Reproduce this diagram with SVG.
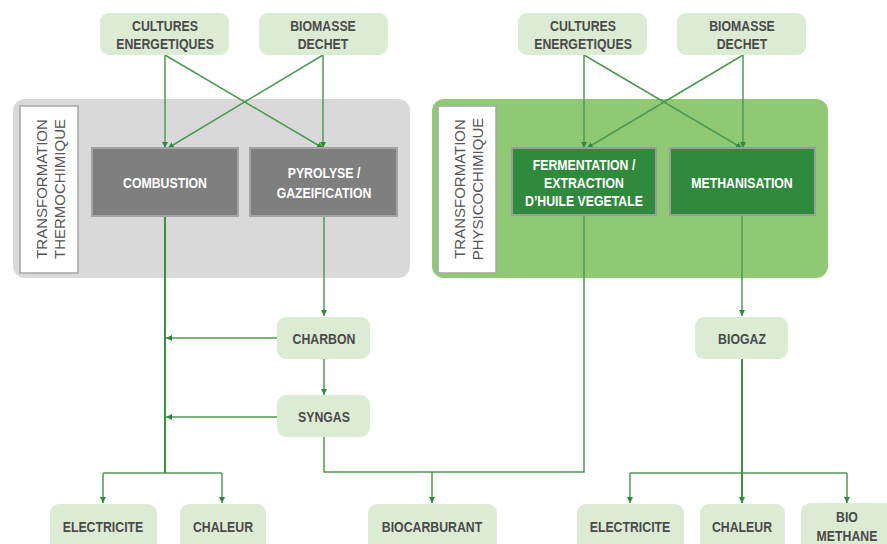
<svg xmlns="http://www.w3.org/2000/svg" width="887" height="544" viewBox="0 0 887 544">
<defs>
<style>
.src{fill:#dcecd4;}
.t{font-family:"Liberation Sans",Arial,sans-serif;font-weight:bold;font-size:15px;fill:#4a4a4a;text-anchor:middle;}
.w{fill:#ffffff;}
.lbl{fill:#ffffff;stroke:#a6a6a6;stroke-width:1.5;}
.vt{font-family:"Liberation Sans",Arial,sans-serif;font-size:15px;fill:#555555;text-anchor:middle;}
.gbox{fill:#7f7f7f;stroke:#a3a3a3;stroke-width:2;}
.dbox{fill:#2f8a3d;stroke:#9c9c9c;stroke-width:2;}
.c{fill:none;stroke:#4e9a52;stroke-width:1.5;}
.c2{fill:none;stroke:#3e8e45;stroke-width:2;}
</style>
<marker id="ah" viewBox="0 0 10 10" refX="10" refY="5" markerWidth="6" markerHeight="6" markerUnits="userSpaceOnUse" orient="auto">
<path d="M0,0 L10,5 L0,10 z" fill="#2f8a3d"/>
</marker>
</defs>
<rect width="887" height="544" fill="#ffffff"/>

<g id="panel-thermo">
<rect x="13" y="99" width="397" height="179" rx="12" fill="#d9d9d9"/>
<rect class="lbl" x="20" y="106" width="58" height="167"/>
<text class="vt" transform="translate(47,189) rotate(-90)">TRANSFORMATION</text>
<text class="vt" transform="translate(65,189) rotate(-90)">THERMOCHIMIQUE</text>
</g>
<g id="panel-physico">
<rect x="432" y="99" width="396" height="179" rx="12" fill="#8fc974"/>
<rect class="lbl" x="438" y="106" width="58" height="167"/>
<text class="vt" transform="translate(465,189) rotate(-90)">TRANSFORMATION</text>
<text class="vt" transform="translate(483,189) rotate(-90)">PHYSICOCHIMIQUE</text>
</g>

<g id="connectors">
<line class="c" x1="165" y1="55" x2="165" y2="148" marker-end="url(#ah)"/>
<line class="c" x1="165" y1="55" x2="323" y2="148" marker-end="url(#ah)"/>
<line class="c" x1="323" y1="55" x2="323" y2="148" marker-end="url(#ah)"/>
<line class="c" x1="323" y1="55" x2="168" y2="148" marker-end="url(#ah)"/>
<line class="c" x1="584" y1="55" x2="584" y2="148" marker-end="url(#ah)"/>
<line class="c" x1="584" y1="55" x2="742" y2="148" marker-end="url(#ah)"/>
<line class="c" x1="743" y1="55" x2="743" y2="148" marker-end="url(#ah)"/>
<line class="c" x1="743" y1="55" x2="587" y2="148" marker-end="url(#ah)"/>
<line class="c2" x1="165" y1="216" x2="165" y2="473"/>
<line class="c" x1="103" y1="473" x2="222" y2="473"/>
<line class="c" x1="103" y1="473" x2="103" y2="503" marker-end="url(#ah)"/>
<line class="c" x1="222" y1="473" x2="222" y2="503" marker-end="url(#ah)"/>
<line class="c" x1="324" y1="216" x2="324" y2="316" marker-end="url(#ah)"/>
<line class="c" x1="277" y1="338" x2="166" y2="338" marker-end="url(#ah)"/>
<line class="c" x1="324" y1="359" x2="324" y2="395" marker-end="url(#ah)"/>
<line class="c" x1="277" y1="417" x2="166" y2="417" marker-end="url(#ah)"/>
<polyline class="c" points="324,437 324,472 584,472 584,216"/>
<line class="c" x1="432" y1="472" x2="432" y2="503" marker-end="url(#ah)"/>
<line class="c" x1="742" y1="216" x2="742" y2="316" marker-end="url(#ah)"/>
<line class="c2" x1="742" y1="359" x2="742" y2="503" marker-end="url(#ah)"/>
<line class="c" x1="630" y1="473" x2="847" y2="473"/>
<line class="c" x1="630" y1="473" x2="630" y2="503" marker-end="url(#ah)"/>
<line class="c" x1="847" y1="473" x2="847" y2="503" marker-end="url(#ah)"/>
</g>

<g id="cultures-1"><rect class="src" x="100" y="13" width="129" height="42" rx="9"/><text class="t" transform="translate(165,31) scale(0.82,1)">CULTURES</text><text class="t" transform="translate(165,49) scale(0.82,1)">ENERGETIQUES</text></g>
<g id="biomasse-1"><rect class="src" x="259" y="13" width="129" height="42" rx="9"/><text class="t" transform="translate(323,31) scale(0.82,1)">BIOMASSE</text><text class="t" transform="translate(323,49) scale(0.82,1)">DECHET</text></g>
<g id="cultures-2"><rect class="src" x="518" y="13" width="129" height="42" rx="9"/><text class="t" transform="translate(583,31) scale(0.82,1)">CULTURES</text><text class="t" transform="translate(583,49) scale(0.82,1)">ENERGETIQUES</text></g>
<g id="biomasse-2"><rect class="src" x="677" y="13" width="129" height="42" rx="9"/><text class="t" transform="translate(742,31) scale(0.82,1)">BIOMASSE</text><text class="t" transform="translate(742,49) scale(0.82,1)">DECHET</text></g>

<g id="combustion"><rect class="gbox" x="92" y="148" width="146" height="68"/><text class="t w" transform="translate(165,188) scale(0.82,1)">COMBUSTION</text></g>
<g id="pyrolyse"><rect class="gbox" x="250" y="148" width="147" height="68"/><text class="t w" transform="translate(324,178) scale(0.82,1)">PYROLYSE /</text><text class="t w" transform="translate(324,198) scale(0.82,1)">GAZEIFICATION</text></g>
<g id="fermentation"><rect class="dbox" x="512" y="148" width="144" height="67"/><text class="t w" transform="translate(584,170) scale(0.82,1)">FERMENTATION /</text><text class="t w" transform="translate(584,188) scale(0.82,1)">EXTRACTION</text><text class="t w" transform="translate(584,206) scale(0.82,1)">D’HUILE VEGETALE</text></g>
<g id="methanisation"><rect class="dbox" x="670" y="148" width="145" height="67"/><text class="t w" transform="translate(742,188) scale(0.82,1)">METHANISATION</text></g>

<g id="charbon"><rect class="src" x="277" y="317" width="93" height="42" rx="9"/><text class="t" transform="translate(324,344) scale(0.82,1)">CHARBON</text></g>
<g id="syngas"><rect class="src" x="277" y="395" width="93" height="42" rx="9"/><text class="t" transform="translate(324,422) scale(0.82,1)">SYNGAS</text></g>
<g id="biogaz"><rect class="src" x="695" y="317" width="93" height="42" rx="9"/><text class="t" transform="translate(742,344) scale(0.82,1)">BIOGAZ</text></g>

<g id="electricite-1"><rect class="src" x="50" y="504" width="107" height="52" rx="9"/><text class="t" transform="translate(103,532) scale(0.82,1)">ELECTRICITE</text></g>
<g id="chaleur-1"><rect class="src" x="180" y="504" width="86" height="52" rx="9"/><text class="t" transform="translate(223,532) scale(0.82,1)">CHALEUR</text></g>
<g id="biocarburant"><rect class="src" x="368" y="504" width="129" height="52" rx="9"/><text class="t" transform="translate(432,532) scale(0.82,1)">BIOCARBURANT</text></g>
<g id="electricite-2"><rect class="src" x="577" y="504" width="107" height="52" rx="9"/><text class="t" transform="translate(630,532) scale(0.82,1)">ELECTRICITE</text></g>
<g id="chaleur-2"><rect class="src" x="700" y="504" width="85" height="52" rx="9"/><text class="t" transform="translate(742,532) scale(0.82,1)">CHALEUR</text></g>
<g id="biomethane"><rect class="src" x="801" y="503" width="95" height="53" rx="9"/><text class="t" transform="translate(847,522) scale(0.82,1)">BIO</text><text class="t" transform="translate(847,541) scale(0.82,1)">METHANE</text></g>
</svg>
